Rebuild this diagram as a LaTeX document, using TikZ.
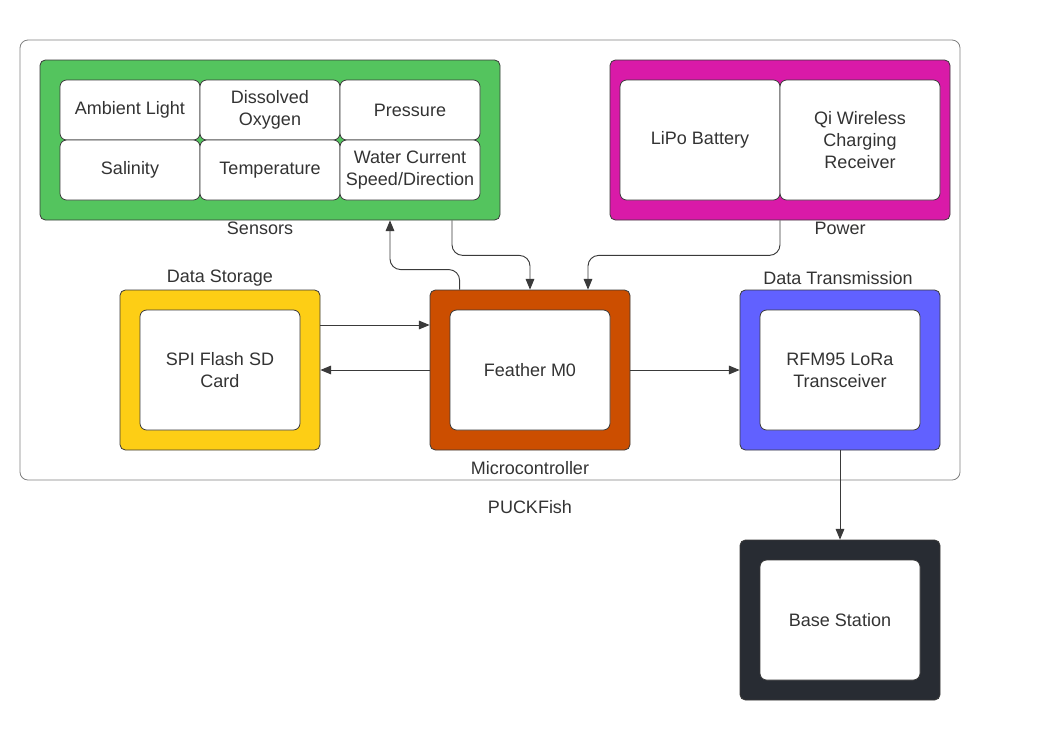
\documentclass[tikz,border=0pt]{standalone}
\usepackage{fontspec}
\setmainfont{Liberation Sans}
\usetikzlibrary{arrows.meta}

\definecolor{sensgreen}{HTML}{54C45E}
\definecolor{powmagenta}{HTML}{D91AA8}
\definecolor{storyellow}{HTML}{FDCE15}
\definecolor{microrange}{HTML}{CC4E00}
\definecolor{transblue}{HTML}{6161FF}
\definecolor{basedark}{HTML}{282C33}
\definecolor{linegray}{HTML}{3A3A3A}
\definecolor{textgray}{HTML}{333333}

\tikzset{
  group/.style={draw=linegray, line width=0.6pt, rounded corners=4pt, fill=#1},
  cell/.style={draw=linegray, line width=0.6pt, rounded corners=5pt, fill=white,
    text=textgray, align=center, font=\fontsize{13.5}{16.5}\selectfont, inner sep=1pt},
  caption/.style={text=textgray, font=\fontsize{13.5}{16.5}\selectfont},
  arr/.style={draw=linegray, line width=0.7pt, -{Triangle[length=8pt,width=6.5pt]}}
}

\begin{document}
\begin{tikzpicture}[x=0.75pt,y=-0.75pt]
  \useasboundingbox (0,0) rectangle (1060,740);
  % Frame
  \node[draw=gray, line width=0.6pt, rounded corners=6pt, minimum width=705pt, minimum height=330pt] (frame) at (490,260) {};
  \node[caption] (puck) at (530,507) {PUCKFish};
  % Sensors
  \node[group=sensgreen, minimum width=345pt, minimum height=120pt] (sensors) at (270,140) {};
  \node[cell, minimum width=105pt, minimum height=45pt] (amb) at (130,110) {Ambient Light};
  \node[cell, minimum width=105pt, minimum height=45pt] (dox) at (270,110) {Dissolved\\Oxygen};
  \node[cell, minimum width=105pt, minimum height=45pt] (pres) at (410,110) {Pressure};
  \node[cell, minimum width=105pt, minimum height=45pt] (sal) at (130,170) {Salinity};
  \node[cell, minimum width=105pt, minimum height=45pt] (temp) at (270,170) {Temperature};
  \node[cell, minimum width=105pt, minimum height=45pt] (water) at (410,170) {Water Current\\Speed/Direction};
  \node[caption] (senslabel) at (260,228) {Sensors};
  % Power
  \node[group=powmagenta, minimum width=255pt, minimum height=120pt] (power) at (780,140) {};
  \node[cell, minimum width=120pt, minimum height=90pt] (lipo) at (700,140) {LiPo Battery};
  \node[cell, minimum width=120pt, minimum height=90pt] (qi) at (860,140) {Qi Wireless\\Charging\\Receiver};
  \node[caption] (powlabel) at (840,228) {Power};
  % Data Storage
  \node[group=storyellow, minimum width=150pt, minimum height=120pt] (storage) at (220,370) {};
  \node[cell, minimum width=120pt, minimum height=90pt] (sd) at (220,370) {SPI Flash SD\\Card};
  \node[caption] (storlabel) at (220,278) {Data Storage};
  % Microcontroller
  \node[group=microrange, minimum width=150pt, minimum height=120pt] (micro) at (530,370) {};
  \node[cell, minimum width=120pt, minimum height=90pt] (feather) at (530,370) {Feather M0};
  \node[caption] (microlabel) at (530,468) {Microcontroller};
  % Data Transmission
  \node[group=transblue, minimum width=150pt, minimum height=120pt] (trans) at (840,370) {};
  \node[cell, minimum width=120pt, minimum height=90pt] (rfm) at (840,370) {RFM95 LoRa\\Transceiver};
  \node[caption] (translabel) at (838,278) {Data Transmission};
  % Base Station
  \node[group=basedark, minimum width=150pt, minimum height=120pt] (basebox) at (840,620) {};
  \node[cell, minimum width=120pt, minimum height=90pt] (base) at (840,620) {Base Station};
  % Connectors
  \draw[arr, rounded corners=8pt] ([xshift=22.5pt]micro.north west) -- ++(0,-20) -| (sensors.south -| 390,0);
  \draw[arr, rounded corners=8pt] (sensors.south -| 452,0) -- ++(0,35) -| (micro.north);
  \draw[arr, rounded corners=8pt] (power.south) -- ++(0,35) -| (micro.north -| 588,0);
  \draw[arr] (storage.east |- 0,325) -- (micro.west |- 0,325);
  \draw[arr] (micro.west) -- (storage.east);
  \draw[arr] (micro.east) -- (trans.west);
  \draw[arr] (trans.south) -- (basebox.north);
\end{tikzpicture}
\end{document}
